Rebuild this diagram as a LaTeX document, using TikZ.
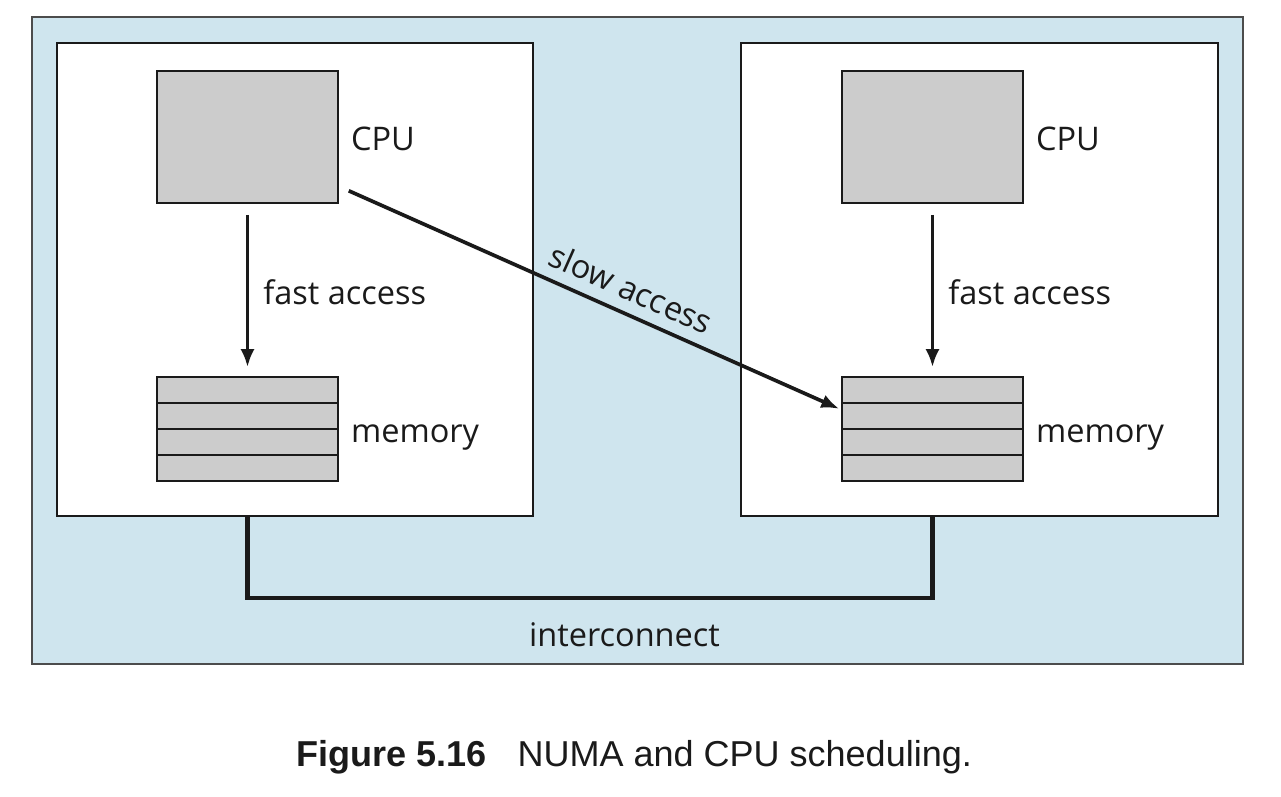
\documentclass[tikz,border=0pt]{standalone}
\usepackage{fontspec}
\setmainfont{Open Sans}
\newfontfamily\capfont{Liberation Sans}
\usetikzlibrary{arrows.meta}
\definecolor{bgblue}{RGB}{207,229,238}
\definecolor{boxgray}{RGB}{204,204,204}
\definecolor{ink}{RGB}{26,26,26}
\begin{document}
\begin{tikzpicture}[x=0.02cm,y=-0.02cm,
  outer/.style={draw=black!70, line width=0.9pt, fill=bgblue, minimum width=24.22cm, minimum height=12.94cm, inner sep=0},
  node box/.style={draw=ink, line width=1pt, fill=white, minimum width=9.52cm, minimum height=9.46cm, inner sep=0},
  cpubox/.style={draw=ink, line width=0.9pt, fill=boxgray, minimum width=3.62cm, minimum height=2.64cm, inner sep=0},
  memrow/.style={draw=ink, line width=0.9pt, fill=boxgray, minimum width=3.62cm, minimum height=0.52cm, inner sep=0},
  lbl/.style={font=\fontsize{18.5}{22}\selectfont, text=ink, inner sep=0},
  arr/.style={draw=ink, line width=2.1pt, -{Latex[length=0.36cm,width=0.28cm]}},
  wire/.style={draw=ink, line width=2.3pt}]
\useasboundingbox (0,0) rectangle (1281,796);
\node[outer] (bg) at (637.5,340.5) {};
\node[node box] (boxL) at (295,279.5) {};
\node[node box, minimum width=9.54cm] (boxR) at (979.5,279.5) {};
% CPUs
\node[cpubox] (cpuL) at (247.5,137) {};
\node[cpubox] (cpuR) at (932.5,137) {};
% memories
\node[memrow] (memL1) at (247.5,390) {};
\node[memrow] (memL2) at (247.5,416) {};
\node[memrow] (memL3) at (247.5,442) {};
\node[memrow] (memL4) at (247.5,468) {};
\node[memrow] (memR1) at (932.5,390) {};
\node[memrow] (memR2) at (932.5,416) {};
\node[memrow] (memR3) at (932.5,442) {};
\node[memrow] (memR4) at (932.5,468) {};
% labels
\node[lbl, anchor=base west] (cpuLlbl) at ([xshift=0.24cm,yshift=-0.26cm]cpuL.east) {CPU};
\node[lbl, anchor=base west] (cpuRlbl) at ([xshift=0.24cm,yshift=-0.26cm]cpuR.east) {CPU};
\node[lbl, anchor=base west] (memLlbl) at ([xshift=0.24cm,yshift=-0.26cm]memL2.south east) {memory};
\node[lbl, anchor=base west] (memRlbl) at ([xshift=0.24cm,yshift=-0.26cm]memR2.south east) {memory};
% fast access arrows
\draw[arr] ([yshift=-0.22cm]cpuL.south) -- node[lbl, anchor=base west, xshift=0.28cm, yshift=-0.26cm] (fastL) {fast access} ([yshift=0.18cm]memL1.north);
\draw[arr] ([yshift=-0.22cm]cpuR.south) -- node[lbl, anchor=base west, xshift=0.28cm, yshift=-0.26cm] (fastR) {fast access} ([yshift=0.18cm]memR1.north);
% slow access
\draw[arr] ([xshift=0.2cm,yshift=0.26cm]cpuL.south east) -- node[lbl, pos=0.555, sloped, above=0.22cm] (slow) {slow access} ([xshift=-0.04cm,yshift=-0.1cm]memR1.south west);
% interconnect
\coordinate (bus) at (624.5,598);
\draw[wire] (cpuL.center |- boxL.south) |- (bus) -| (cpuR.center |- boxR.south);
\node[lbl, anchor=base, yshift=-0.96cm] (ic) at (bus) {interconnect};
% caption
\node[anchor=base west, inner sep=0, font=\capfont\fontsize{20.5}{24}\selectfont, text=ink] (cap) at (296,766) {\textbf{Figure 5.16}\hspace{0.62cm}NUMA and CPU scheduling.};
\end{tikzpicture}
\end{document}
